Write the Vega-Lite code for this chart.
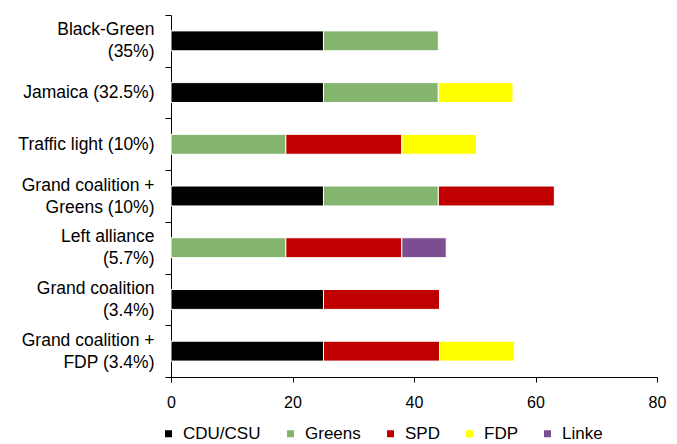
{
  "$schema": "https://vega.github.io/schema/vega-lite/v6.json",
  "width": 486,
  "height": 362,
  "autosize": {"type": "none"},
  "padding": {"left": 171, "top": 15, "right": 20, "bottom": 67},
  "background": "white",
  "config": {
    "font": "Liberation Sans",
    "view": {"stroke": null}
  },
  "data": {
    "values": [
      {"coalition": "Black-Green|(35%)", "party": "CDU/CSU", "seats": 25.1},
      {"coalition": "Black-Green|(35%)", "party": "Greens", "seats": 18.9},
      {"coalition": "Jamaica (32.5%)", "party": "CDU/CSU", "seats": 25.1},
      {"coalition": "Jamaica (32.5%)", "party": "Greens", "seats": 18.9},
      {"coalition": "Jamaica (32.5%)", "party": "FDP", "seats": 12.3},
      {"coalition": "Traffic light (10%)", "party": "Greens", "seats": 18.9},
      {"coalition": "Traffic light (10%)", "party": "SPD", "seats": 19.1},
      {"coalition": "Traffic light (10%)", "party": "FDP", "seats": 12.3},
      {"coalition": "Grand coalition +|Greens (10%)", "party": "CDU/CSU", "seats": 25.1},
      {"coalition": "Grand coalition +|Greens (10%)", "party": "Greens", "seats": 18.9},
      {"coalition": "Grand coalition +|Greens (10%)", "party": "SPD", "seats": 19.1},
      {"coalition": "Left alliance|(5.7%)", "party": "Greens", "seats": 18.9},
      {"coalition": "Left alliance|(5.7%)", "party": "SPD", "seats": 19.1},
      {"coalition": "Left alliance|(5.7%)", "party": "Linke", "seats": 7.3},
      {"coalition": "Grand coalition|(3.4%)", "party": "CDU/CSU", "seats": 25.1},
      {"coalition": "Grand coalition|(3.4%)", "party": "SPD", "seats": 19.1},
      {"coalition": "Grand coalition +|FDP (3.4%)", "party": "CDU/CSU", "seats": 25.1},
      {"coalition": "Grand coalition +|FDP (3.4%)", "party": "SPD", "seats": 19.1},
      {"coalition": "Grand coalition +|FDP (3.4%)", "party": "FDP", "seats": 12.3}
    ]
  },
  "transform": [
    {"calculate": "indexof(['CDU/CSU', 'Greens', 'SPD', 'FDP', 'Linke'], datum.party)", "as": "stackOrder"}
  ],
  "mark": {"type": "bar", "height": {"band": 0.385}, "stroke": "white", "strokeWidth": 1},
  "encoding": {
    "y": {
      "field": "coalition",
      "type": "nominal",
      "sort": null,
      "scale": {"paddingInner": 0, "paddingOuter": 0},
      "axis": {
        "title": null,
        "tickBand": "extent",
        "labelExpr": "datum.value ? split(datum.value, '|') : ''",
        "labelFontSize": 17.5,
        "labelLineHeight": 22,
        "labelOffset": {"condition": {"test": "datum.value && indexof(datum.value, '|') >= 0", "value": -11}, "value": 0},
        "labelColor": "#000000",
        "labelPadding": 11,
        "tickSize": 6,
        "tickColor": "#000000",
        "domainColor": "#000000",
        "grid": false
      }
    },
    "x": {
      "field": "seats",
      "type": "quantitative",
      "stack": "zero",
      "scale": {"domain": [0, 80], "nice": false},
      "axis": {
        "title": null,
        "values": [0, 20, 40, 60, 80],
        "grid": false,
        "labelFontSize": 16,
        "labelColor": "#000000",
        "labelPadding": 12,
        "tickSize": 5,
        "tickColor": "#000000",
        "domainColor": "#000000",
        "labelFlush": false
      }
    },
    "order": {"field": "stackOrder", "type": "quantitative", "sort": "ascending"},
    "color": {
      "field": "party",
      "type": "nominal",
      "sort": ["CDU/CSU", "Greens", "SPD", "FDP", "Linke"],
      "scale": {
        "domain": ["CDU/CSU", "Greens", "SPD", "FDP", "Linke"],
        "range": ["#000000", "#84b56e", "#c00000", "#ffff00", "#7b4d91"]
      },
      "legend": {
        "title": null,
        "orient": "none",
        "direction": "horizontal",
        "legendX": -11,
        "legendY": 410,
        "padding": 0,
        "symbolType": "square",
        "symbolSize": 49,
        "symbolStrokeWidth": 0,
        "labelFontSize": 17,
        "labelColor": "#000000",
        "labelOffset": 6,
        "columnPadding": 21
      }
    }
  }
}
